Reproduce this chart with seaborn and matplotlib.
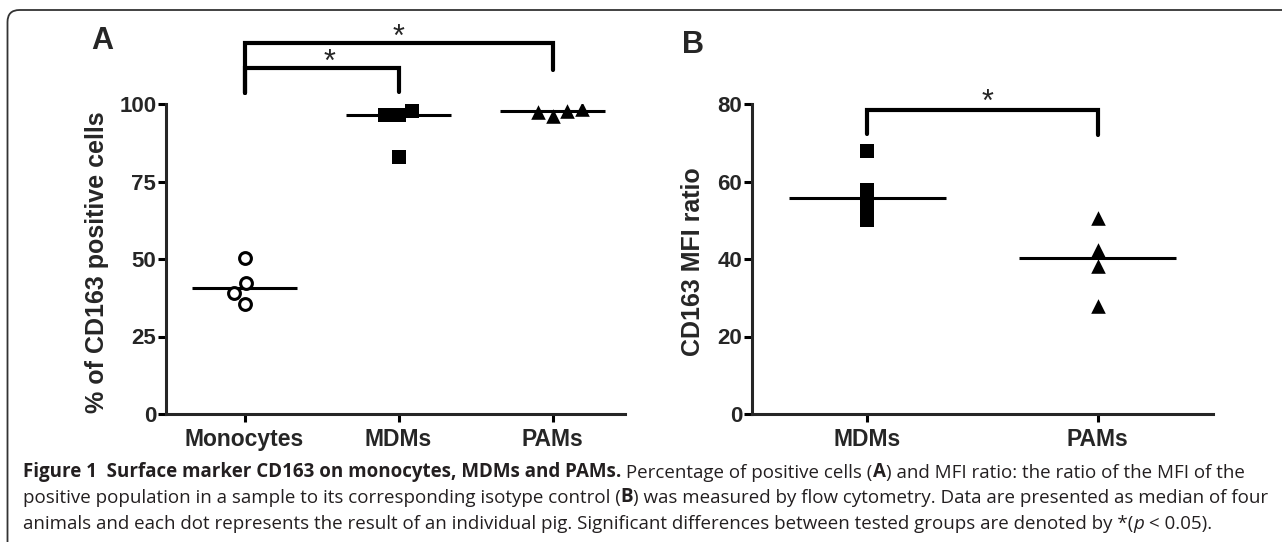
import numpy as np
import pandas as pd
import seaborn as sns
import matplotlib.pyplot as plt
import matplotlib.patches as mpatches

# panel A: % of CD163 positive cells
cats_a = ['Monocytes', 'MDMs', 'PAMs']
mono_pct = [50.3, 42.3, 35.6, 39.1]
mdm_pct = [96.5, 96.5, 97.6, 82.8]
pam_pct = [97.5, 96.0, 97.9, 98.4]

# panel B: CD163 MFI ratio
cats_b = ['MDMs', 'PAMs']
mdm_mfi = [67.8, 57.9, 53.6, 50.0]
pam_mfi = [50.5, 42.4, 38.1, 27.8]

yticks_a = [0, 25, 50, 75, 100]
yticks_b = [0, 20, 40, 60, 80]

df_a = pd.DataFrame({'group': ['Monocytes'] * 4 + ['MDMs'] * 4 + ['PAMs'] * 4,
                     'value': mono_pct + mdm_pct + pam_pct})
df_b = pd.DataFrame({'group': ['MDMs'] * 4 + ['PAMs'] * 4,
                     'value': mdm_mfi + pam_mfi})

sns.set_style('ticks')
plt.rcParams['font.family'] = ['Liberation Sans', 'DejaVu Sans']
plt.rcParams['axes.linewidth'] = 2.2

fig = plt.figure(figsize=(12.82, 5.42), dpi=100)
W, H = 1282, 542
ax1 = fig.add_axes([166 / W, 1 - 414 / H, (625 - 166) / W, (414 - 104) / H])
ax2 = fig.add_axes([752 / W, 1 - 414 / H, (1213 - 752) / W, (414 - 104) / H])

styles = {
    'Monocytes': dict(marker='o', color='white', edgecolor='black', linewidth=2.2, size=8.5),
    'MDMs': dict(marker='s', color='black', linewidth=0, size=9.5),
    'PAMs': dict(marker='^', color='black', linewidth=0, size=10.5),
}


def dot_panel(ax, df, cats):
    for g in cats:
        sub = df[df['group'] == g]
        sns.swarmplot(data=sub, x='group', y='value', order=cats, ax=ax, **styles[g])
    # median lines
    for i, g in enumerate(cats):
        med = np.median(df.loc[df['group'] == g, 'value'])
        ax.hlines(med, i - 0.34, i + 0.34, color='black', lw=2.2, zorder=1)
    sns.despine(ax=ax)
    ax.set_xlim(-0.5, len(cats) - 0.5)
    ax.set_xlabel('')
    ax.tick_params(axis='both', width=2.2, length=6, color='black')
    ax.tick_params(axis='y', pad=1, labelsize=16)
    ax.tick_params(axis='x', pad=4, labelsize=16.5)
    for lab in ax.get_xticklabels() + ax.get_yticklabels():
        lab.set_fontweight('bold')


def bracket(ax, x1, x2, top, y1, y2):
    ax.plot([x1, x1, x2, x2], [y1, top, top, y2], color='black', lw=3,
            clip_on=False, solid_joinstyle='miter')


dot_panel(ax1, df_a, cats_a)
ax1.set_xlim(-0.51, 2.47)
ax1.set_ylim(0, 100)
ax1.set_yticks(yticks_a)
ax1.set_ylabel('% of CD163 positive cells', fontsize=18, fontweight='bold')
ax1.yaxis.set_label_coords(-0.124, 0.49)
bracket(ax1, 0, 1, 111.7, 103.6, 103.9)
bracket(ax1, 0, 2, 119.7, 103.6, 111.0)
ax1.text(0.55, 110.6, '*', ha='center', va='baseline', fontsize=22, clip_on=False)
ax1.text(1.0, 118.7, '*', ha='center', va='baseline', fontsize=22, clip_on=False)

dot_panel(ax2, df_b, cats_b)
ax2.set_ylim(0, 80)
ax2.set_yticks(yticks_b)
ax2.set_ylabel('CD163 MFI ratio', fontsize=18, fontweight='bold')
ax2.yaxis.set_label_coords(-0.102, 0.49)
bracket(ax2, 0, 1, 78.4, 72.3, 72.0)
ax2.text(0.52, 78.2, '*', ha='center', va='baseline', fontsize=22, clip_on=False)

fig.text(102 / W, 1 - 41 / H, 'A', fontsize=22, fontweight='bold', ha='center', va='center')
fig.text(693 / W, 1 - 45 / H, 'B', fontsize=22, fontweight='bold', ha='center', va='center')

# rounded frame around figure + caption
frame = mpatches.FancyBboxPatch((7.5, -30), 1320, 532 + 30, boxstyle='round,pad=0,rounding_size=12',
                                transform=None, fill=False, lw=1.3, ec='#333333')
fig.patches.append(frame)

cap_font = 'Open Sans'
cap_size = 13.5
cap_color = '#231f20'
caption = [
    [('Figure 1  Surface marker CD163 on monocytes, MDMs and PAMs.', 'bold', 'normal'),
     (' Percentage of positive cells (', 'normal', 'normal'), ('A', 'bold', 'normal'),
     (') and MFI ratio: the ratio of the MFI of the', 'normal', 'normal')],
    [('positive population in a sample to its corresponding isotype control (', 'normal', 'normal'),
     ('B', 'bold', 'normal'),
     (') was measured by flow cytometry. Data are presented as median of four', 'normal', 'normal')],
    [('animals and each dot represents the result of an individual pig. Significant differences '
      'between tested groups are denoted by *(', 'normal', 'normal'),
     ('p', 'normal', 'italic'), (' < 0.05).', 'normal', 'normal')],
]
baselines = [477, 503, 529]
for line, base in zip(caption, baselines):
    last = None
    for s, wt, st in line:
        kw = dict(fontsize=cap_size, fontweight=wt, fontstyle=st, family=cap_font, color=cap_color)
        if last is None:
            last = fig.text(23 / W, 1 - base / H, s, va='baseline', ha='left', **kw)
        else:
            last = plt.annotate(s, xy=(1, 0), xycoords=last, va='bottom', ha='left',
                                annotation_clip=False, **kw)

fig.savefig('out.png', dpi=100)
